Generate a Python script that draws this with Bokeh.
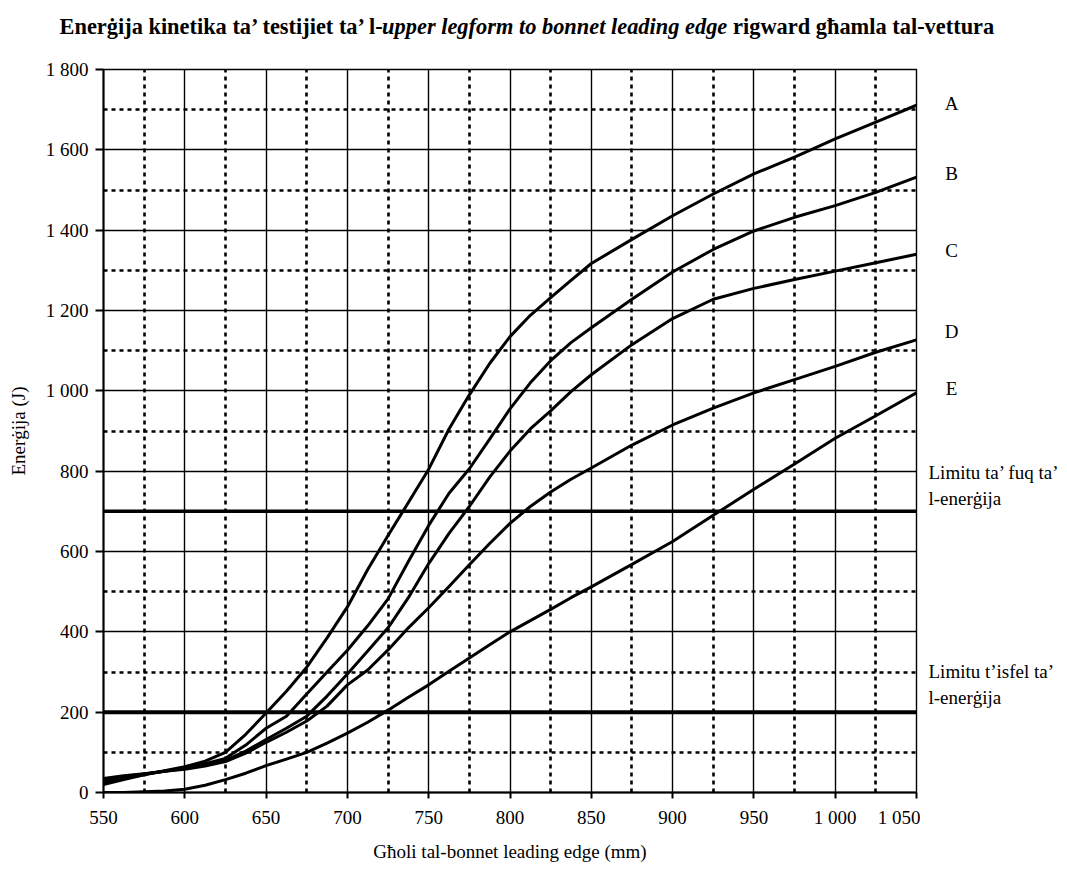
from bokeh.plotting import figure
from bokeh.models import Range1d, FixedTicker, Grid, Span
from bokeh.layouts import column, row
from bokeh.core.properties import value
from bokeh.embed import file_html
from bokeh.resources import INLINE

# ---------------- data ----------------
height_mm = [550, 562.5, 575, 587.5, 600, 612.5, 625, 637.5, 650, 662.5, 675, 687.5,
             700, 712.5, 725, 737.5, 750, 762.5, 775, 787.5, 800, 812.5, 825, 837.5,
             850, 875, 900, 925, 950, 975, 1000, 1025, 1050]
energy_A = [20, 32, 44, 54, 64, 78, 100, 145, 198, 252, 312, 385,
            462, 555, 640, 722, 805, 905, 990, 1068, 1135, 1188, 1232, 1275,
            1317, 1377, 1436, 1490, 1540, 1582, 1627, 1669, 1711]
energy_B = [25, 35, 45, 53, 62, 72, 85, 118, 160, 190, 245, 300,
            354, 415, 482, 575, 665, 745, 806, 880, 955, 1020, 1075, 1120,
            1157, 1228, 1296, 1352, 1398, 1432, 1461, 1494, 1532]
energy_C = [30, 40, 46, 53, 60, 70, 80, 103, 132, 160, 190, 240,
            295, 352, 410, 485, 570, 645, 712, 785, 850, 905, 950, 998,
            1040, 1115, 1180, 1228, 1255, 1277, 1298, 1319, 1340]
energy_D = [35, 42, 47, 53, 58, 66, 77, 98, 125, 150, 178, 215,
            268, 305, 355, 410, 460, 513, 567, 620, 670, 712, 748, 780,
            808, 865, 915, 957, 995, 1028, 1061, 1096, 1127]
energy_E = [0, 0, 2, 4, 8, 18, 32, 48, 67, 83, 100, 123,
            148, 175, 205, 237, 268, 302, 335, 368, 400, 428, 456, 485,
            512, 568, 625, 690, 755, 818, 882, 938, 995]
curve_names = ["A", "B", "C", "D", "E"]

upper_limit_J = 700
lower_limit_J = 200
upper_limit_text = ["Limitu ta’ fuq ta’", "l-enerġija"]
lower_limit_text = ["Limitu t’isfel ta’", "l-enerġija"]

x_ticks = [550, 600, 650, 700, 750, 800, 850, 900, 950, 1000, 1050]
x_dotted = [575, 625, 675, 725, 775, 825, 875, 925, 975, 1025]
y_ticks = [0, 200, 400, 600, 800, 1000, 1200, 1400, 1600, 1800]
y_dotted = [100, 300, 500, 900, 1100, 1300, 1500, 1700]

title_parts = ["Enerġija kinetika ta’ testijiet ta’ l-",
               "upper legform to bonnet leading edge",
               "rigward għamla tal-vettura"]
x_axis_title = "Għoli tal-bonnet leading edge (mm)"
y_axis_title = "Enerġija (J)"


def tick_text(v):
    s = str(v)
    return s if v < 1000 else s[0] + " " + s[1:]


# ---------------- layout / style ----------------
W, H = 1067, 870
TITLE_H = 55                 # strip holding the title
FL, FR, FT, FB = 103, 916, 69, 792   # frame edges on the page
MAIN_W = 920
X0, X1, Y0, Y1 = 550, 1050, 0, 1800
FONT = "Liberation Serif"
FS = "19px"


def sy(py):
    return Y0 + (FB - py) * (Y1 - Y0) / (FB - FT)


yr = Range1d(Y0, Y1)

p = figure(width=MAIN_W, height=H - TITLE_H, x_range=Range1d(X0, X1), y_range=yr,
           output_backend="svg", toolbar_location=None,
           min_border_left=FL, min_border_right=MAIN_W - FR,
           min_border_top=FT - TITLE_H, min_border_bottom=H - FB,
           background_fill_color="white", border_fill_color="white")
p.outline_line_color = "black"
p.outline_line_width = 1.4

# solid grid
p.xgrid.ticker = FixedTicker(ticks=x_ticks)
p.ygrid.ticker = FixedTicker(ticks=y_ticks)
for g in (p.xgrid, p.ygrid):
    g.grid_line_color = "black"
    g.grid_line_width = 1.4
    g.grid_line_alpha = 1.0

# dotted grid
p.add_layout(Grid(dimension=0, ticker=FixedTicker(ticks=x_dotted),
                  grid_line_color="black", grid_line_width=2.6, grid_line_dash="4 4"))
p.add_layout(Grid(dimension=1, ticker=FixedTicker(ticks=y_dotted),
                  grid_line_color="black", grid_line_width=2.6, grid_line_dash="4 4"))

# limits
p.add_layout(Span(location=upper_limit_J, dimension="width", line_color="black", line_width=3.5))
p.add_layout(Span(location=lower_limit_J, dimension="width", line_color="black", line_width=4))

# curves
for ys in (energy_A, energy_B, energy_C, energy_D, energy_E):
    p.line(height_mm, ys, line_color="black", line_width=3, line_join="round", line_cap="round")

# axes
p.xaxis.ticker = FixedTicker(ticks=x_ticks)
p.yaxis.ticker = FixedTicker(ticks=y_ticks)
p.xaxis.major_label_overrides = {v: tick_text(v) for v in x_ticks}
p.yaxis.major_label_overrides = {v: tick_text(v) for v in y_ticks}
for ax in (p.xaxis[0], p.yaxis[0]):
    ax.axis_line_color = "black"
    ax.axis_line_width = 2
    ax.major_tick_line_color = "black"
    ax.major_tick_line_width = 2
    ax.major_tick_in = 0
    ax.minor_tick_line_color = None
    ax.major_label_text_font = FONT
    ax.major_label_text_font_size = FS
    ax.major_label_text_color = "black"
    ax.axis_label_text_font = FONT
    ax.axis_label_text_font_size = FS
    ax.axis_label_text_font_style = "normal"
    ax.axis_label_text_color = "black"
p.xaxis.major_tick_out = 6
p.yaxis.major_tick_out = 8
p.xaxis.major_label_standoff = 8
p.yaxis.major_label_standoff = 7
p.xaxis.axis_label = x_axis_title
p.yaxis.axis_label = y_axis_title
p.xaxis.axis_label_standoff = 10
p.yaxis.axis_label_standoff = 14

# ---------------- right strip: curve letters and limit labels ----------------
RW = W - MAIN_W
r = figure(width=RW, height=H - TITLE_H, x_range=Range1d(0, RW), y_range=yr,
           x_axis_type=None, y_axis_type=None,
           output_backend="svg", toolbar_location=None,
           min_border_left=0, min_border_right=0,
           min_border_top=FT - TITLE_H, min_border_bottom=H - FB,
           background_fill_color="white", border_fill_color="white")
r.outline_line_color = None
r.grid.visible = False

letter_py = [103, 173, 250, 331, 388]
r.text(x=[951 - MAIN_W] * len(curve_names), y=[sy(v) for v in letter_py], text=curve_names,
       text_font=value(FONT), text_font_size=value(FS), text_align="center",
       text_baseline="middle", text_color="black")

lim_texts, lim_py = [], []
for lines, py0 in ((upper_limit_text, 472), (lower_limit_text, 671)):
    for i, t in enumerate(lines):
        lim_texts.append(t)
        lim_py.append(py0 + 26 * i)
r.text(x=[928 - MAIN_W] * len(lim_texts), y=[sy(v) for v in lim_py], text=lim_texts,
       text_font=value(FONT), text_font_size=value(FS), text_align="left",
       text_baseline="middle", text_color="black")

# ---------------- title strip (bold / bold italic / bold runs) ----------------
t = figure(width=W, height=TITLE_H, x_range=Range1d(0, W), y_range=Range1d(0, TITLE_H),
           x_axis_type=None, y_axis_type=None,
           output_backend="svg", toolbar_location=None,
           min_border_left=0, min_border_right=0, min_border_top=0, min_border_bottom=0,
           background_fill_color="white", border_fill_color="white")
t.outline_line_color = None
t.grid.visible = False

TFS = 22.4
em1, em2, em_space = 14.581, 15.417, 0.25  # run widths in em (Times-metric bold serif)
tx = 59
kern = -4  # small correction between runs
styles = ["bold", "bold italic", "bold"]
offsets = [0, em1 * TFS + kern, (em1 + em2 + em_space) * TFS + kern]
for txt, st, off in zip(title_parts, styles, offsets):
    t.text(x=[tx + off], y=[TITLE_H - 26], text=[txt],
           text_font=value(FONT), text_font_size=value(f"{TFS}px"),
           text_font_style=value(st), text_align="left", text_baseline="alphabetic",
           text_color="black")

layout = column(t, row(p, r, spacing=0), spacing=0)
open("out.html", "w").write(file_html(layout, INLINE))
